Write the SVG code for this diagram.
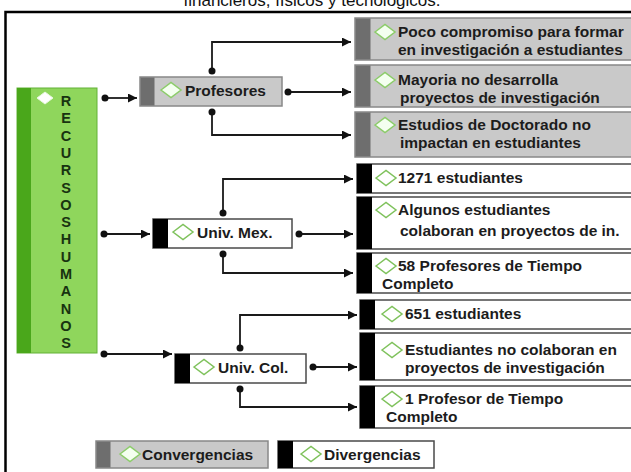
<svg xmlns="http://www.w3.org/2000/svg" width="631" height="472" viewBox="0 0 631 472">
<defs>
<style>
.t{font-family:"Liberation Sans",Arial,sans-serif;font-weight:700;font-size:15.5px;fill:#1c1c1c}
.title{font-family:"Liberation Sans",Arial,sans-serif;font-size:17px;fill:#111}
.lt{font-family:"Liberation Sans",Arial,sans-serif;font-weight:700;font-size:14.5px;fill:#183310;text-anchor:middle}
.conv{fill:#c9c9c9;stroke:#888;stroke-width:1.5}
.convs{fill:#6e6e6e}
.div{fill:#fff;stroke:#4a4a4a;stroke-width:1.5}
.divs{fill:#000}
.dg{fill:#f4fff0;stroke:#8ccc6a;stroke-width:1.5}
.dw{fill:#fff;stroke:#7fc25c;stroke-width:1.5}
.c{fill:none;stroke:#1a1a1a;stroke-width:1.8}
.d{fill:#111}
</style>
<marker id="ar" viewBox="0 0 10 10" refX="10" refY="5" markerWidth="9" markerHeight="9" markerUnits="userSpaceOnUse" orient="auto">
<path d="M0,0 L10,5 L0,10 z" fill="#111"/>
</marker>
<path id="dm" d="M-10,0 L0,-7.5 L10,0 L0,7.5 z"/>
</defs>
<rect width="631" height="472" fill="#fff"/>
<text class="title" x="312" y="6" text-anchor="middle">financieros, físicos y tecnológicos.</text>
<path d="M5.5,472 V12 H631" fill="none" stroke="#000" stroke-width="2.5"/>

<g id="recursos">
<rect x="17" y="88" width="80" height="265" fill="#8fd65c" stroke="#62b236" stroke-width="1"/>
<rect x="17" y="88" width="14" height="265" fill="#4aa71b"/>
<path d="M37,98 L45,92 L53,98 L45,104 z" fill="#fff" stroke="#e8f8e0" stroke-width="1"/>
<text class="lt" x="66"><tspan x="66" y="106">R</tspan><tspan x="66" y="123.3">E</tspan><tspan x="66" y="140.6">C</tspan><tspan x="66" y="157.9">U</tspan><tspan x="66" y="175.2">R</tspan><tspan x="66" y="192.5">S</tspan><tspan x="66" y="209.8">O</tspan><tspan x="66" y="227.1">S</tspan><tspan x="66" y="244.4">H</tspan><tspan x="66" y="261.7">U</tspan><tspan x="66" y="279">M</tspan><tspan x="66" y="296.3">A</tspan><tspan x="66" y="313.6">N</tspan><tspan x="66" y="330.9">O</tspan><tspan x="66" y="348.2">S</tspan></text>
</g>

<g id="profesores">
<rect class="conv" x="140" y="77" width="142" height="29"/>
<rect class="convs" x="140.5" y="77.5" width="14" height="28"/>
<use href="#dm" class="dg" x="171" y="90"/>
<text class="t" x="185" y="96">Profesores</text>
</g>
<g id="poco">
<rect class="conv" x="355" y="18" width="285" height="42"/>
<rect class="convs" x="355.5" y="18.5" width="15" height="41"/>
<use href="#dm" class="dg" x="385" y="32"/>
<text class="t" x="398" y="37">Poco compromiso para formar</text>
<text class="t" x="398" y="55">en investigación a estudiantes</text>
</g>
<g id="mayoria">
<rect class="conv" x="355" y="65" width="285" height="42"/>
<rect class="convs" x="355.5" y="65.5" width="15" height="41"/>
<use href="#dm" class="dg" x="385" y="80"/>
<text class="t" x="398" y="85">Mayoria no desarrolla</text>
<text class="t" x="400" y="103">proyectos de investigación</text>
</g>
<g id="estudios">
<rect class="conv" x="355" y="112" width="285" height="45"/>
<rect class="convs" x="355.5" y="112.5" width="15" height="44"/>
<use href="#dm" class="dg" x="385" y="125"/>
<text class="t" x="398" y="130">Estudios de Doctorado no</text>
<text class="t" x="400" y="148">impactan en estudiantes</text>
</g>

<g id="univmex">
<rect class="div" x="153" y="219" width="139" height="29"/>
<rect class="divs" x="153" y="219" width="15" height="29"/>
<use href="#dm" class="dw" x="183" y="232"/>
<text class="t" x="197" y="238">Univ. Mex.</text>
</g>
<g id="e1271">
<rect class="div" x="357" y="164" width="283" height="29"/>
<rect class="divs" x="357" y="164" width="15" height="29"/>
<use href="#dm" class="dw" x="386" y="178"/>
<text class="t" x="398" y="183">1271 estudiantes</text>
</g>
<g id="algunos">
<rect class="div" x="357" y="197" width="283" height="52"/>
<rect class="divs" x="357" y="197" width="15" height="52"/>
<use href="#dm" class="dw" x="386" y="210"/>
<text class="t" x="398" y="215">Algunos estudiantes</text>
<text class="t" x="400" y="236">colaboran en proyectos de in.</text>
</g>
<g id="p58">
<rect class="div" x="357" y="253" width="283" height="40"/>
<rect class="divs" x="357" y="253" width="15" height="40"/>
<use href="#dm" class="dw" x="386" y="266"/>
<text class="t" x="398" y="271">58 Profesores de Tiempo</text>
<text class="t" x="382" y="289">Completo</text>
</g>

<g id="univcol">
<rect class="div" x="175" y="354" width="131" height="29"/>
<rect class="divs" x="175" y="354" width="15" height="29"/>
<use href="#dm" class="dw" x="204" y="367"/>
<text class="t" x="218" y="373">Univ. Col.</text>
</g>
<g id="e651">
<rect class="div" x="360" y="300" width="280" height="29"/>
<rect class="divs" x="360" y="300" width="15" height="29"/>
<use href="#dm" class="dw" x="392" y="314"/>
<text class="t" x="405" y="319">651 estudiantes</text>
</g>
<g id="nocolaboran">
<rect class="div" x="360" y="333" width="280" height="47"/>
<rect class="divs" x="360" y="333" width="15" height="47"/>
<use href="#dm" class="dw" x="392" y="350"/>
<text class="t" x="405" y="355">Estudiantes no colaboran en</text>
<text class="t" x="405" y="373">proyectos de investigación</text>
</g>
<g id="p1">
<rect class="div" x="360" y="386" width="280" height="42"/>
<rect class="divs" x="360" y="386" width="15" height="42"/>
<use href="#dm" class="dw" x="392" y="399"/>
<text class="t" x="405" y="404">1 Profesor de Tiempo</text>
<text class="t" x="386" y="422">Completo</text>
</g>

<g id="leg-conv">
<rect class="conv" x="96" y="441" width="172" height="27"/>
<rect class="convs" x="96.5" y="441.5" width="14" height="26"/>
<use href="#dm" class="dg" x="130" y="454"/>
<text class="t" x="142" y="460">Convergencias</text>
</g>
<g id="leg-div">
<rect class="div" x="278" y="441" width="156" height="27"/>
<rect class="divs" x="278" y="441" width="15" height="27"/>
<use href="#dm" class="dw" x="311" y="454"/>
<text class="t" x="324" y="460">Divergencias</text>
</g>

<g id="connectors">
<path class="c" d="M105,98 H137" marker-end="url(#ar)"/>
<path class="c" d="M104,234 H150" marker-end="url(#ar)"/>
<path class="c" d="M104,354 H172" marker-end="url(#ar)"/>
<path class="c" d="M212,71 V42 H351" marker-end="url(#ar)"/>
<path class="c" d="M288,92 H351" marker-end="url(#ar)"/>
<path class="c" d="M212,112 V135 H351" marker-end="url(#ar)"/>
<path class="c" d="M223,213 V179 H353" marker-end="url(#ar)"/>
<path class="c" d="M299,234 H353" marker-end="url(#ar)"/>
<path class="c" d="M223,254 V273 H353" marker-end="url(#ar)"/>
<path class="c" d="M240,348 V315 H357" marker-end="url(#ar)"/>
<path class="c" d="M313,367 H357" marker-end="url(#ar)"/>
<path class="c" d="M240,389 V407 H357" marker-end="url(#ar)"/>
<g class="d">
<circle cx="105" cy="98" r="3.5"/>
<circle cx="104" cy="234" r="3.5"/>
<circle cx="104" cy="354" r="3.5"/>
<circle cx="212" cy="71" r="3.5"/>
<circle cx="288" cy="92" r="3.5"/>
<circle cx="212" cy="112" r="3.5"/>
<circle cx="223" cy="213" r="3.5"/>
<circle cx="299" cy="234" r="3.5"/>
<circle cx="223" cy="254" r="3.5"/>
<circle cx="240" cy="348" r="3.5"/>
<circle cx="313" cy="367" r="3.5"/>
<circle cx="240" cy="389" r="3.5"/>
</g>
</g>
</svg>
